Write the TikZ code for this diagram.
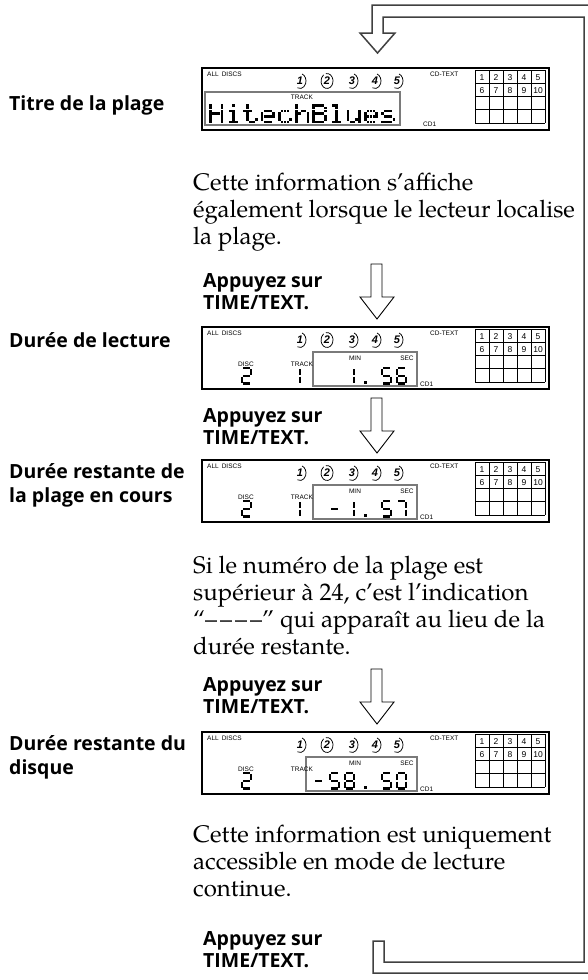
\documentclass[tikz,border=0pt]{standalone}
\usepackage{fontspec}
\setmainfont{TeX Gyre Pagella}
\newfontfamily\labfont{Open Sans}
\newfontfamily\dispfont{Liberation Sans}
\definecolor{loopgray}{HTML}{404040}
\definecolor{boxgray}{HTML}{7A7A7A}
\tikzset{
  loopline/.style={draw=loopgray, line width=1.5pt, line join=miter},
  arrowline/.style={draw=black, line width=0.9pt, line join=miter},
  lcdframe/.style={draw=black, line width=1.5pt},
  graybox/.style={draw=boxgray, line width=2.4pt},
  gridline/.style={draw=black, line width=0.8pt},
  tiny/.style={font=\dispfont\fontsize{6.5}{7}\selectfont, inner sep=0pt},
  gridnum/.style={font=\dispfont\fontsize{8.5}{9}\selectfont, inner sep=0pt},
  discfont/.style={font=\dispfont\bfseries\itshape\fontsize{11}{11}\selectfont, inner sep=0pt},
  lab/.style={font=\labfont\bfseries\fontsize{19.5}{22}\selectfont, inner sep=0pt, anchor=base west},
  body/.style={font=\fontsize{24}{27}\selectfont, inner sep=0pt, anchor=base west},
  segline/.style={draw=black, line width=2.4pt, line cap=butt},
}
% seven segment parts
\newcommand\sgA{\draw[segline] (1.2,0)--(7.8,0);}
\newcommand\sgB{\draw[segline] (9,1)--(9,6.8);}
\newcommand\sgC{\draw[segline] (9,8.7)--(9,14.5);}
\newcommand\sgD{\draw[segline] (1.2,15.5)--(7.8,15.5);}
\newcommand\sgE{\draw[segline] (0,8.7)--(0,14.5);}
\newcommand\sgF{\draw[segline] (0,1)--(0,6.8);}
\newcommand\sgG{\draw[segline] (1.2,7.75)--(7.8,7.75);}
\newcommand\segdigit[3]{\begin{scope}[shift={(#1,{#2})}]\ifcase#3\relax
 \sgA\sgB\sgC\sgD\sgE\sgF\or \sgB\sgC\or \sgA\sgB\sgG\sgE\sgD\or \sgA\sgB\sgG\sgC\sgD\or
 \sgF\sgG\sgB\sgC\or \sgA\sgF\sgG\sgC\sgD\or \sgA\sgF\sgG\sgE\sgD\sgC\or \sgA\sgB\sgC\or
 \sgA\sgB\sgC\sgD\sgE\sgF\sgG\or \sgA\sgB\sgC\sgD\sgF\sgG\or \sgG\fi\end{scope}}
% dot matrix bitmaps
\def\bmpH{{1,0,0,0,1},{1,0,0,0,1},{1,0,0,0,1},{1,1,1,1,1},{1,0,0,0,1},{1,0,0,0,1},{1,0,0,0,1}}
\def\bmpi{{0,0,1,0,0},{0,0,0,0,0},{0,1,1,0,0},{0,0,1,0,0},{0,0,1,0,0},{0,0,1,0,0},{0,1,1,1,0}}
\def\bmpt{{0,1,0,0,0},{0,1,0,0,0},{1,1,1,0,0},{0,1,0,0,0},{0,1,0,0,0},{0,1,0,0,1},{0,0,1,1,0}}
\def\bmpe{{0,0,0,0,0},{0,0,0,0,0},{0,1,1,1,0},{1,0,0,0,1},{1,1,1,1,1},{1,0,0,0,0},{0,1,1,1,0}}
\def\bmpc{{0,0,0,0,0},{0,0,0,0,0},{0,1,1,1,0},{1,0,0,0,0},{1,0,0,0,0},{1,0,0,0,1},{0,1,1,1,0}}
\def\bmph{{1,0,0,0,0},{1,0,0,0,0},{1,0,1,1,0},{1,1,0,0,1},{1,0,0,0,1},{1,0,0,0,1},{1,0,0,0,1}}
\def\bmpB{{1,1,1,1,0},{1,0,0,0,1},{1,0,0,0,1},{1,1,1,1,0},{1,0,0,0,1},{1,0,0,0,1},{1,1,1,1,0}}
\def\bmpl{{0,1,1,0,0},{0,0,1,0,0},{0,0,1,0,0},{0,0,1,0,0},{0,0,1,0,0},{0,0,1,0,0},{0,1,1,1,0}}
\def\bmpu{{0,0,0,0,0},{0,0,0,0,0},{1,0,0,0,1},{1,0,0,0,1},{1,0,0,0,1},{1,0,0,1,1},{0,1,1,0,1}}
\def\bmps{{0,0,0,0,0},{0,0,0,0,0},{0,1,1,1,0},{1,0,0,0,0},{0,1,1,1,0},{0,0,0,0,1},{1,1,1,1,0}}
\newcommand\dmchar[3]{%
  \expandafter\let\expandafter\dmlist\csname bmp#3\endcsname
  \foreach \dmrow [count=\dmi] in \dmlist {%
    \foreach \dmbit [count=\dmj] in \dmrow {%
      \ifnum\dmbit=1 \fill ({#1+(\dmj-1)*2.9},{#2+(\dmi-1)*2.8}) rectangle ++(2.7,2.55);\fi}}}
% disc indicator
\newcommand\discnum[5]{%
  \node[discfont] (dn#3t#2) at (#1,{#2+13}) {#3};
  \draw[line width=0.75pt] ({#1+6*cos(#4)},{#2+13+7.5*sin(#4)}) arc[start angle=#4, end angle=#5, x radius=6, y radius=7.5];}
% common display parts
\newcommand\lcdbase[1]{%
  \draw[lcdframe] (202,#1) rectangle (549,{#1+62});
  \node[tiny, anchor=base west] (all#1) at (207,{#1+8}) {ALL\hspace{3pt}DISCS};
  \node[tiny, anchor=base west] (cdt#1) at (430,{#1+8}) {CD-TEXT};
  \discnum{300}{#1}{1}{-70}{115}
  \discnum{327}{#1}{2}{-100}{235}
  \discnum{352}{#1}{3}{-70}{115}
  \discnum{375}{#1}{4}{-70}{115}
  \discnum{397}{#1}{5}{-70}{115}
  \foreach \gi in {0,...,5} \draw[gridline] ({475+14*\gi},{#1+2}) -- ({475+14*\gi},{#1+55});
  \foreach \gj in {0,...,4} \draw[gridline] (475,{#1+2+13.25*\gj}) -- (545,{#1+2+13.25*\gj});
  \foreach \gn [count=\gk from 0] in {1,...,10} {%
    \pgfmathtruncatemacro\gc{mod(\gk,5)}\pgfmathtruncatemacro\gr{\gk/5}%
    \node[gridnum, anchor=base] (g\gn t#1) at ({475+14*\gc+7},{#1+2+13.25*\gr+10.5}) {\gn};}}
\newcommand\timebox[2]{%
  \draw[graybox] (#2,{#1+25}) rectangle (417,{#1+59});
  \node[tiny] (min#1) at (355,{#1+31}) {MIN};
  \node[tiny] (sec#1) at (407,{#1+31}) {SEC};
  \fill (364,{#1+54}) rectangle ++(2.7,2.7);
  \node[tiny, anchor=base west] (cdone#1) at (420,{#1+59}) {CD1};
  \node[tiny] (disc#1) at (246,{#1+37}) {DISC};
  \node[tiny] (track#1) at (302,{#1+37}) {TRACK};
  \segdigit{242}{#1+41}{2}}
\newcommand\hollowarrow[1]{%
  \draw[arrowline] (371,#1) -- (382,#1) -- (382,{#1+33}) -- (394,{#1+33}) -- (377,{#1+55}) -- (360,{#1+33}) -- (371,{#1+33}) -- cycle;}
\begin{document}
\begin{tikzpicture}[x=1pt,y=-1pt]
\useasboundingbox (0,0) rectangle (588,980);
% return loop
\draw[loopline] (372,33) -- (372,5) -- (600,5) -- (600,973) -- (373,973) -- (373,941) -- (384,941)
  -- (384,962) -- (584,962) -- (584,17) -- (383,17) -- (383,33) -- (395,33) -- (377.5,53) -- (360,33) -- cycle;
% step 1
\node[lab] (titre) at (9,110) {Titre de la plage};
\lcdbase{68}
\draw[graybox] (205,92) rectangle (400,125);
\node[tiny] (trk68) at (302,97) {TRACK};
\foreach \ch [count=\k from 0] in {H,i,t,e,c,h,B,l,u,e,s} {\dmchar{209+17.2*\k}{104}{\ch}}
\node[tiny, anchor=base west] (cd68) at (423,126) {CD1};
\node[body] (t1a) at (193,190) {Cette information s’affiche};
\node[body] (t1b) at (193,217) {également lorsque le lecteur localise};
\node[body] (t1c) at (193,244) {la plage.};
\node[lab] (a1) at (203,287) {Appuyez sur};
\node[lab] (b1) at (203,309) {TIME/TEXT.};
\hollowarrow{264}
% step 2
\node[lab] (dl) at (9,347) {Durée de lecture};
\lcdbase{327}
\timebox{327}{313}
\segdigit{291}{327+41}{1}
\segdigit{345}{327+41}{1}
\segdigit{382}{327+41}{5}
\segdigit{397}{327+41}{6}
\node[lab] (a2) at (203,422) {Appuyez sur};
\node[lab] (b2) at (203,444) {TIME/TEXT.};
\hollowarrow{398}
% step 3
\node[lab] (dr1) at (9,478) {Durée restante de};
\node[lab] (dr2) at (9,502) {la plage en cours};
\lcdbase{460}
\timebox{460}{313}
\segdigit{291}{460+41}{1}
\segdigit{330}{460+41}{10}
\segdigit{345}{460+41}{1}
\segdigit{382}{460+41}{5}
\segdigit{397}{460+41}{7}
\node[body] (t3a) at (193,573) {Si le numéro de la plage est};
\node[body] (t3b) at (193,600) {supérieur à 24, c’est l’indication};
\node[body] (t3c) at (193,627) {“–\kern3pt–\kern3pt–\kern3pt–” qui apparaît au lieu de la};
\node[body] (t3d) at (193,654) {durée restante.};
\node[lab] (a3) at (203,691) {Appuyez sur};
\node[lab] (b3) at (203,713) {TIME/TEXT.};
\hollowarrow{669}
% step 4
\node[lab] (dd1) at (9,750) {Durée restante du};
\node[lab] (dd2) at (9,774) {disque};
\lcdbase{732}
\timebox{732}{306}
\segdigit{314}{732+41}{10}
\segdigit{330}{732+41}{5}
\segdigit{345}{732+41}{8}
\segdigit{382}{732+41}{5}
\segdigit{397}{732+41}{0}
\node[body] (t4a) at (193,842) {Cette information est uniquement};
\node[body] (t4b) at (193,869) {accessible en mode de lecture};
\node[body] (t4c) at (193,896) {continue.};
\node[lab] (a4) at (203,945) {Appuyez sur};
\node[lab] (b4) at (203,967) {TIME/TEXT.};
\end{tikzpicture}
\end{document}
